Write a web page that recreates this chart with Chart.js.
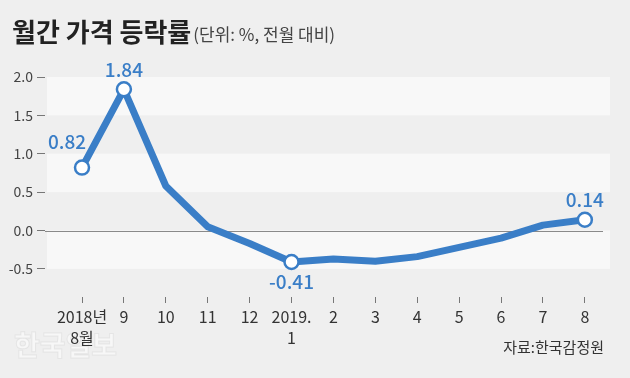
<!DOCTYPE html>
<html>
<head>
<meta charset="utf-8">
<script src="https://cdn.jsdelivr.net/npm/chart.js@4"></script>
<style>
html,body{margin:0;padding:0;background:#efefef;}
canvas{display:block;}
</style>
</head>
<body>
<canvas id="c" width="630" height="378"></canvas>
<script>
const categories = [['2018년','8월'], '9', '10', '11', '12', ['2019.','1'], '2', '3', '4', '5', '6', '7', '8'];
const values = [0.82, 1.84, 0.58, 0.05, -0.17, -0.41, -0.37, -0.40, -0.34, -0.22, -0.10, 0.07, 0.14];
const yTickValues = [-0.5, 0, 0.5, 1.0, 1.5, 2.0];
const labeledPoints = [0, 1, 5, 12];
const titleText = '월간 가격 등락률';
const unitText = '(단위: %, 전월 대비)';
const sourceText = '자료:한국감정원';
const watermarkText = '한국일보';

const FONT = '"Noto Sans CJK KR", "Noto Sans", sans-serif';
const BLUE = '#3a7ec7';

const decorPlugin = {
  id: 'decor',
  beforeDraw(chart) {
    const ctx = chart.ctx;
    ctx.save();
    ctx.fillStyle = '#efefef';
    ctx.fillRect(0, 0, chart.width, chart.height);
    // title
    ctx.fillStyle = '#222';
    ctx.textBaseline = 'alphabetic';
    ctx.font = 'bold 26px ' + FONT;
    ctx.fillText(titleText, 12, 42);
    const w = ctx.measureText(titleText).width;
    ctx.fillStyle = '#444';
    ctx.font = '17px ' + FONT;
    ctx.fillText(unitText, 12 + w + 2, 41);
    // source
    ctx.fillStyle = '#333';
    ctx.font = '15px ' + FONT;
    ctx.textAlign = 'right';
    ctx.fillText(sourceText, 604, 353);
    // watermark
    ctx.textAlign = 'left';
    ctx.font = 'bold 28px ' + FONT;
    ctx.fillStyle = 'rgba(255,255,255,0.5)';
    ctx.strokeStyle = 'rgba(200,200,200,0.3)';
    ctx.lineWidth = 1;
    ctx.fillText(watermarkText, 14, 356);
    ctx.strokeText(watermarkText, 14, 356);
    ctx.restore();
  },
  beforeDatasetsDraw(chart) {
    const ctx = chart.ctx;
    const y = chart.scales.y;
    const a = chart.chartArea;
    ctx.save();
    ctx.fillStyle = '#f8f8f8';
    const bands = [[1.5, 2.0], [0.5, 1.0], [-0.5, 0]];
    bands.forEach(([lo, hi]) => {
      const t = y.getPixelForValue(hi), b = y.getPixelForValue(lo);
      ctx.fillRect(a.left + 2, t, a.right - a.left - 2, b - t);
    });
    // zero line
    const z = Math.round(y.getPixelForValue(0)) + 0.5;
    ctx.strokeStyle = '#8a8a8a';
    ctx.lineWidth = 1.2;
    ctx.beginPath();
    ctx.moveTo(a.left, z);
    ctx.lineTo(a.right - 7, z);
    ctx.stroke();
    ctx.restore();
  },
  afterDatasetsDraw(chart) {
    const ctx = chart.ctx;
    const meta = chart.getDatasetMeta(0);
    ctx.save();
    ctx.fillStyle = BLUE;
    ctx.font = '500 19px ' + FONT;
    ctx.textAlign = 'center';
    ctx.textBaseline = 'middle';
    labeledPoints.forEach(i => {
      const p = meta.data[i];
      const v = values[i];
      let dx = 0, dy = -20;
      if (i === 0) { dx = -15; dy = -26; }
      if (v < 0) { dy = 20; }
      ctx.fillText(v.toFixed(2), p.x + dx, p.y + dy);
    });
    ctx.restore();
  }
};

new Chart(document.getElementById('c'), {
  type: 'line',
  data: {
    datasets: [{
      data: values.map((v, i) => ({ x: i, y: v })),
      borderColor: BLUE,
      borderWidth: 7,
      borderJoinStyle: 'round',
      borderCapStyle: 'round',
      tension: 0,
      fill: false,
      pointRadius: ctx => labeledPoints.includes(ctx.dataIndex) ? 7 : 0,
      pointHoverRadius: 0,
      pointBackgroundColor: '#ffffff',
      pointBorderColor: BLUE,
      pointBorderWidth: 2.5,
      clip: false
    }]
  },
  options: {
    responsive: false,
    animation: false,
    events: [],
    layout: { padding: { top: 77, right: 20, left: 0, bottom: 0 } },
    plugins: { legend: { display: false }, tooltip: { enabled: false }, title: { display: false } },
    scales: {
      x: {
        type: 'linear',
        min: -0.883,
        max: 12.6,
        afterBuildTicks: s => { s.ticks = categories.map((_, i) => ({ value: i })); },
        afterFit: s => { s.height = 81; },
        ticks: {
          autoSkip: false,
          maxRotation: 0,
          padding: 4,
          color: '#333',
          font: { family: FONT, size: 16, lineHeight: 1.3 },
          callback: v => categories[v]
        },
        grid: { drawOnChartArea: false, drawTicks: true, tickLength: 6, color: '#777' },
        border: { display: false }
      },
      y: {
        min: -0.866,
        max: 2.0,
        afterBuildTicks: s => { s.ticks = yTickValues.map(v => ({ value: v })); },
        afterFit: s => { s.width = 45; },
        ticks: {
          padding: 4,
          color: '#444',
          font: { family: FONT, size: 14 },
          callback: v => v.toFixed(1)
        },
        grid: { drawOnChartArea: false, drawTicks: true, tickLength: 8, color: '#777' },
        border: { display: false }
      }
    }
  },
  plugins: [decorPlugin]
});
</script>
</body>
</html>
